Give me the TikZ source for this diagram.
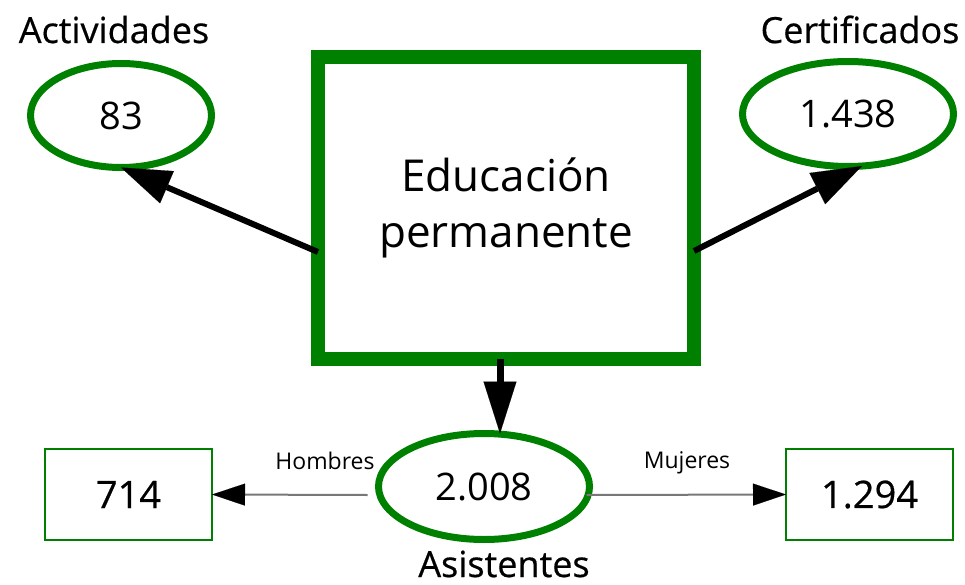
\documentclass[tikz,border=0pt]{standalone}
\usepackage{fontspec}
\setmainfont{Open Sans}
\newfontfamily\titlefont{Open Sans}[FakeBold=0.5]
\usetikzlibrary{arrows.meta,shapes.geometric,calc}
\definecolor{dgreen}{RGB}{0,128,0}
\definecolor{lgray}{RGB}{120,120,120}
\begin{document}
\begin{tikzpicture}[x=1pt,y=-1pt,
  bigbox/.style={draw=dgreen,line width=14pt,minimum width=376pt,minimum height=302.5pt,inner sep=0pt,outer sep=0pt,align=center,font=\fontsize{44}{56}\selectfont},
  oval/.style={ellipse,draw=dgreen,line width=7pt,inner sep=0pt,outer sep=0pt,font=\fontsize{38}{40}\selectfont},
  smallbox/.style={draw=dgreen,line width=1.5pt,minimum width=167pt,minimum height=91pt,inner sep=0pt,outer sep=0pt,font=\titlefont\fontsize{38}{40}\selectfont},
  titlelabel/.style={anchor=base,inner sep=0pt,font=\titlefont\fontsize{36}{40}\selectfont},
  sublabel/.style={anchor=base,inner sep=0pt,font=\fontsize{23}{26}\selectfont},
  bigarrow/.style={line width=6pt,-{Triangle[length=50pt,width=35pt,line width=0.1pt]}},
  downarrow/.style={line width=7pt,-{Triangle[length=52pt,width=33pt,line width=0.1pt]}},
  thinarrow/.style={draw=lgray,line width=2pt,-{Triangle[length=33pt,width=22pt,line width=0.1pt,color=black]}}
]
\useasboundingbox (0,0) rectangle (965,585);
% nodes
\node[bigbox] (edu) at (506,208) {Educación\\permanente};
\node[oval,minimum width=181pt,minimum height=104pt] (act) at (121,115.5) {83};
\node[oval,minimum width=211pt,minimum height=105pt] (cert) at (848,114) {1.438};
\node[oval,minimum width=211pt,minimum height=106pt] (asis) at (484,486.5) {2.008};
\node[smallbox] (hom) at (128.5,494.5) {714};
\node[smallbox] (muj) at (869.5,494.5) {1.294};
\node[titlelabel] (tact) at (114,43) {Actividades};
\node[titlelabel] (tcert) at (860,43) {Certificados};
\node[titlelabel] (tasis) at (504,577) {Asistentes};
\node[sublabel] (lh) at (325,469) {Hombres};
\node[sublabel] (lm) at (687,468) {Mujeres};
% connectors
\draw[bigarrow] ($(edu.west)+(0,44)$) -- (act.south);
\draw[bigarrow] ($(edu.east)+(0,43)$) -- (cert.-75);
\coordinate (dtop) at ($(edu.south)+(-6,0)$);
\draw[downarrow] (dtop) -- (dtop |- asis.north);
\draw[thinarrow] ($(asis.west)+(-11,8.5)$) -- (hom.east);
\draw[thinarrow] ($(asis.east)+(-3,8.5)$) -- (muj.west);
\end{tikzpicture}
\end{document}
